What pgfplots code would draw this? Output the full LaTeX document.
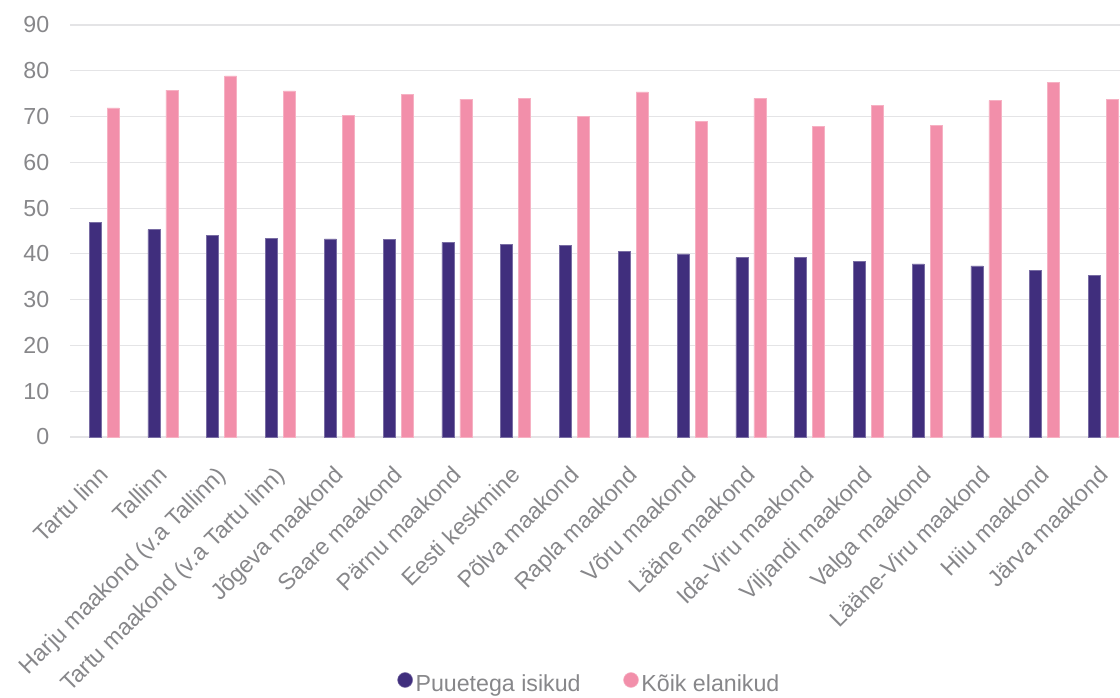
\documentclass[border=0pt]{standalone}
\usepackage{fontspec}
\setmainfont{Liberation Sans}
\usepackage{pgfplots}
\pgfplotsset{compat=1.18}
\definecolor{cpurple}{RGB}{64,46,125}
\definecolor{cpink}{RGB}{242,143,170}
\definecolor{cgrid}{RGB}{228,228,230}
\definecolor{ctext}{RGB}{135,135,138}
\begin{document}
\begin{tikzpicture}[x=0.75pt,y=0.75pt]
\path[use as bounding box] (0,0) rectangle (1120,697);
\begin{axis}[
  at={(52.5pt,195pt)}, anchor=south west,
  scale only axis, width=787.5pt, height=309pt,
  ybar=4.5pt, bar width=9pt,
  xmin=-0.58, xmax=17.28, ymin=0, ymax=90,
  ytick={0,10,...,90},
  xtick={0,...,17},
  xticklabels={Tartu linn,Tallinn,Harju maakond (v.a Tallinn),Tartu maakond (v.a Tartu linn),Jõgeva maakond,Saare maakond,Pärnu maakond,Eesti keskmine,Põlva maakond,Rapla maakond,Võru maakond,Lääne maakond,Ida-Viru maakond,Viljandi maakond,Valga maakond,Lääne-Viru maakond,Hiiu maakond,Järva maakond},
  xticklabel style={rotate=45, anchor=north east, xshift=-11.5pt, yshift=-5pt},
  ymajorgrids, major grid style={cgrid, line width=0.9pt},
  axis x line*=bottom, axis y line*=left,
  x axis line style={cgrid, line width=0.9pt},
  y axis line style={draw=none},
  tick style={draw=none},
  ticklabel style={font=\fontsize{17.4}{20}\selectfont, text=ctext},
  yticklabel style={xshift=-12pt},
  /pgf/number format/assume math mode=true,
  legend columns=2,
  legend style={at={(0.495,-0.5995)}, anchor=center, draw=none, fill=none,
    font=\fontsize{17.4}{20}\selectfont, text=ctext,
    /tikz/every even column/.append style={column sep=30pt}},
  legend image code/.code={\fill[#1] (0.15em,0.3em) circle (5.6pt);},
  clip=false,
]
\addplot[fill=cpurple, draw=cpurple!70!white, line width=0.4pt] coordinates {
(0,46.9) (1,45.3) (2,44.1) (3,43.4) (4,43.3) (5,43.2) (6,42.5) (7,42.1) (8,41.8)
(9,40.6) (10,40.0) (11,39.2) (12,39.2) (13,38.3) (14,37.8) (15,37.4) (16,36.4) (17,35.3)};
\addlegendentry{Puuetega isikud}
\addplot[fill=cpink, draw=cpink!70!white, line width=0.4pt] coordinates {
(0,71.9) (1,75.8) (2,78.9) (3,75.6) (4,70.3) (5,74.9) (6,73.8) (7,74.0) (8,70.0)
(9,75.4) (10,69.0) (11,74.0) (12,67.9) (13,72.5) (14,68.1) (15,73.5) (16,77.5) (17,73.8)};
\addlegendentry{Kõik elanikud}
\end{axis}
\end{tikzpicture}
\end{document}
